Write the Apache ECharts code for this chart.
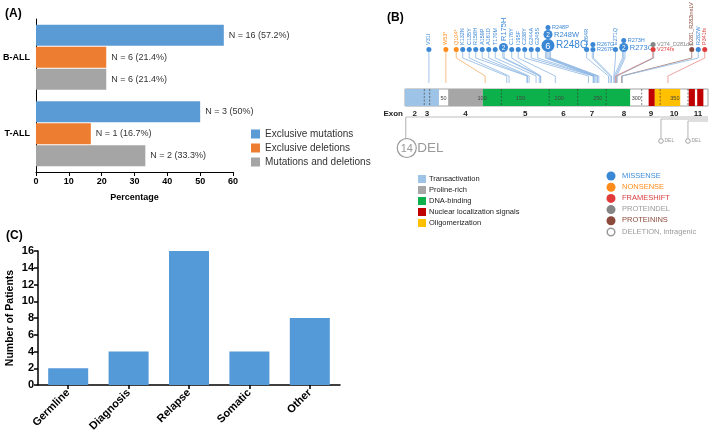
<!DOCTYPE html>
<html><head><meta charset="utf-8">
<script src="https://cdn.jsdelivr.net/npm/echarts@6/dist/echarts.min.js"></script>
<style>html,body{margin:0;padding:0;background:#fff}#c{width:709px;height:436px}</style>
</head><body><div id="c"></div>
<script>
// ---------- Panel A data ----------
const groupCats = ['B-ALL', 'T-ALL'];
const seriesNamesA = ['Exclusive mutations', 'Exclusive deletions', 'Mutations and deletions'];
const pctMut = [57.2, 50];
const pctDel = [21.4, 16.7];
const pctBoth = [21.4, 33.3];
const nMut = [16, 3];
const nDel = [6, 1];
const nBoth = [6, 2];
const pctAxisMax = 60, pctAxisStep = 10;

// ---------- Panel C data ----------
const timeCats = ['Germline', 'Diagnosis', 'Relapse', 'Somatic', 'Other'];
const patientCounts = [2, 4, 16, 4, 8];
const patientAxisMax = 16, patientAxisStep = 2;

// ---------- Panel B data ----------
const proteinLength = 393;
const domainNames = ['Transactivation', 'Proline-rich', 'DNA-binding', 'Nuclear localization signals', 'Oligomerization'];
const domainStart = [0, 56, 101, 316, 324, 368, 379];
const domainEnd = [44, 101, 292, 324, 357, 376, 387];
const domainIdx = [0, 1, 2, 3, 4, 3, 3];
const exonNumbers = ['2', '3', '4', '5', '6', '7', '8', '9', '10', '11'];
const exonEnds = [25, 32, 125, 187, 224, 261, 307, 331, 367, 393];
const positionTicks = [50, 100, 150, 200, 250, 300, 350];

const mutName = ['V31I','W53*','Q104*','K132N','C135Y','R158H','A159P','A161D','T170M','R175H','C176Y','I195F','C238Y','G244A','G245S','R248Q','R248W','R248P','L264R','R267P','R267G','E271Q','R273C','R273H','V274fs','V274_D281del','D281_R282insLV','R282W','P341fs'];
const mutPos = [31,53,104,132,135,158,159,161,170,175,176,195,238,244,245,248,248,248,264,267,267,271,273,273,274,274,281,282,341];
const mutCount = [1,1,1,1,1,1,1,1,1,2,1,1,1,1,1,6,2,1,1,1,1,1,2,1,1,1,1,1,1];
const mutType = ['MISSENSE','NONSENSE','NONSENSE','MISSENSE','MISSENSE','MISSENSE','MISSENSE','MISSENSE','MISSENSE','MISSENSE','MISSENSE','MISSENSE','MISSENSE','MISSENSE','MISSENSE','MISSENSE','MISSENSE','MISSENSE','MISSENSE','MISSENSE','MISSENSE','MISSENSE','MISSENSE','MISSENSE','FRAMESHIFT','PROTEINDEL','PROTEININS','MISSENSE','FRAMESHIFT'];

const delStart = [1, 332, 367];
const delEnd = [393, 393, 393];
const delCount = [14, 1, 1];

const mutTypeNames = ['MISSENSE', 'NONSENSE', 'FRAMESHIFT', 'PROTEINDEL', 'PROTEININS', 'DELETION, intragenic'];

// ---------- styles ----------
const FONT = '"Liberation Sans", Arial, sans-serif';
const colorsA = ['#5B9BD5', '#ED7D31', '#A5A5A5'];
const domainColors = ['#9DC3E6', '#A6A6A6', '#0DB14B', '#C00000', '#FFC000'];
const typeColor = {MISSENSE:'#3A87D6', NONSENSE:'#FF8C1A', FRAMESHIFT:'#E23B3B', PROTEINDEL:'#858585', PROTEININS:'#8B4A3C', DEL:'#9A9A9A'};
const typeLine = {MISSENSE:'#8DB6E3', NONSENSE:'#F6AE66', FRAMESHIFT:'#EC8B8B', PROTEINDEL:'#8A8FA0', PROTEININS:'#A07A70'};
const legendTextColor = ['#3F8ED8', '#FF8C1A', '#D94040', '#9A9A9A', '#8B4A3C', '#9A9A9A'];

const measureCtx = document.createElement('canvas').getContext('2d');
function textW(t, size) { measureCtx.font = size + 'px ' + FONT; return measureCtx.measureText(t).width; }
function radiusOf(c) { return c === 1 ? 2.5 : 3.5 + 0.5 * c; }
function fontOf(c) { return c === 1 ? 5.5 : (c === 2 ? 7.5 : 10); }

// group mutations into stacks at the same position
const stacks = [];
mutPos.forEach((p, i) => {
  let s = stacks.length && stacks[stacks.length - 1].pos === p ? stacks[stacks.length - 1] : null;
  if (!s) { s = {pos: p, items: []}; stacks.push(s); }
  s.items.push(i);
});
stacks.forEach(s => {
  const rs = s.items.map(i => radiusOf(mutCount[i]));
  s.rMax = Math.max(...rs);
  if (s.items.length === 1) {
    const f = fontOf(mutCount[s.items[0]]);
    s.left = Math.max(s.rMax, f / 2) + 0.5; s.right = s.left;
  } else {
    s.left = s.rMax + 0.5;
    s.right = Math.max(...s.items.map(i => radiusOf(mutCount[i]) + 1.5 + 0.85 * textW(mutName[i], fontOf(mutCount[i])))) + 0.5;
  }
});

let LAY = null;
function computeLayout(api) {
  const n = stacks.length;
  const xs = stacks.map(s => api.coord([s.pos, 1])[0]);
  const lb = api.coord([0, 1])[0], rb = api.coord([proteinLength, 1])[0];
  const h = xs.slice();
  for (let i = 0; i < n; i++) {
    h[i] = i === 0 ? Math.max(xs[i], lb + stacks[i].left) : Math.max(xs[i], h[i - 1] + stacks[i - 1].right + stacks[i].left);
  }
  for (let i = n - 1; i >= 0; i--) {
    const lim = i === n - 1 ? rb - stacks[i].right : h[i + 1] - stacks[i + 1].left - stacks[i].right;
    h[i] = Math.min(h[i], lim);
  }
  return {xs, h};
}

function renderMut(params, api) {
  if (params.dataIndex === 0 || !LAY) LAY = computeLayout(api);
  const i = params.dataIndex, s = stacks[i];
  const hx = LAY.h[i], ax = LAY.xs[i];
  const barTop = api.coord([0, 1])[1];
  const yBase = barTop - 37;
  const children = [];
  const lines = [];
  s.items.forEach(k => { const nl = mutCount[k] > 1 ? 2 : 1; for (let j = 0; j < nl; j++) lines.push(typeLine[mutType[k]]); });
  const nL = lines.length;
  lines.forEach((col, j) => {
    const off = (j - (nL - 1) / 2) * 1.3;
    children.push({type: 'polyline', shape: {points: [[hx + off, yBase], [hx + off, barTop - 31], [ax + off, barTop - 13], [ax + off, barTop - 6]]},
      style: {stroke: col, lineWidth: 0.8, fill: null}});
  });
  let cy = yBase;
  s.items.forEach(k => {
    const r = radiusOf(mutCount[k]);
    const c = cy - r;
    const col = typeColor[mutType[k]];
    children.push({type: 'circle', shape: {cx: hx, cy: c, r: r}, style: {fill: col}});
    if (mutCount[k] > 1) {
      children.push({type: 'text', x: hx, y: c + 0.5, style: {text: String(mutCount[k]), fill: '#fff', fontSize: r * 1.45, fontFamily: FONT, align: 'center', verticalAlign: 'middle'}});
    }
    if (s.items.length > 1) {
      children.push({type: 'text', x: hx + r + 1.5, y: c, style: {text: mutName[k], fill: col, fontSize: fontOf(mutCount[k]), fontFamily: FONT, align: 'left', verticalAlign: 'middle'}});
    }
    cy = c - r;
  });
  if (s.items.length === 1) {
    const k = s.items[0];
    children.push({type: 'text', x: hx, y: cy - 2, rotation: Math.PI / 2,
      style: {text: mutName[k], fill: typeColor[mutType[k]], fontSize: fontOf(mutCount[k]), fontFamily: FONT, align: 'left', verticalAlign: 'middle'}});
  }
  return {type: 'group', children};
}

function renderProtein(params, api) {
  const p0 = api.coord([0, 1]), p1 = api.coord([proteinLength, 0]);
  const children = [{type: 'rect', shape: {x: p0[0], y: p0[1], width: p1[0] - p0[0], height: p1[1] - p0[1]}, style: {fill: '#fff', stroke: '#8A8A8A', lineWidth: 0.8}}];
  domainStart.forEach((st, i) => {
    const a = api.coord([st, 1]), b = api.coord([domainEnd[i], 0]);
    children.push({type: 'rect', shape: {x: a[0], y: a[1], width: b[0] - a[0], height: b[1] - a[1]}, style: {fill: domainColors[domainIdx[i]]}});
  });
  exonEnds.slice(0, -1).forEach(e => {
    const a = api.coord([e, 1]), b = api.coord([e, 0]);
    children.push({type: 'line', shape: {x1: a[0], y1: a[1], x2: b[0], y2: b[1]}, style: {stroke: '#333', lineWidth: 0.6, lineDash: [2, 1.5]}});
  });
  positionTicks.forEach(t => {
    const a = api.coord([t, 0.5]);
    children.push({type: 'text', x: a[0], y: a[1] + 1, style: {text: String(t), fill: '#444', fontSize: 5.5, fontFamily: FONT, align: 'center', verticalAlign: 'middle'}});
  });
  const yEx = p1[1] + 7.5;
  children.push({type: 'text', x: p0[0] - 2, y: yEx, style: {text: 'Exon', fill: '#222', fontSize: 8, fontWeight: 'bold', fontFamily: FONT, align: 'right', verticalAlign: 'middle'}});
  exonNumbers.forEach((num, i) => {
    const s = i === 0 ? 0 : exonEnds[i - 1];
    const a = api.coord([(s + exonEnds[i]) / 2, 0]);
    children.push({type: 'text', x: a[0], y: yEx, style: {text: num, fill: '#222', fontSize: 8, fontWeight: 'bold', fontFamily: FONT, align: 'center', verticalAlign: 'middle'}});
  });
  return {type: 'group', children};
}

function renderDel(params, api) {
  const i = params.dataIndex;
  const barBottom = api.coord([0, 0])[1];
  const yl = barBottom + 11 + i * 2;
  const a = api.coord([delStart[i], 0])[0], b = api.coord([delEnd[i], 0])[0];
  const col = typeColor.DEL;
  const children = [{type: 'line', shape: {x1: a, y1: yl, x2: b, y2: yl}, style: {stroke: '#B5B5B5', lineWidth: 0.9}}];
  if (delCount[i] > 1) {
    const cy = barBottom + 42, r = 9.5;
    children.push({type: 'line', shape: {x1: a, y1: yl, x2: a, y2: cy - r}, style: {stroke: '#A8A8A8', lineWidth: 0.9}});
    children.push({type: 'circle', shape: {cx: a + 1, cy: cy, r: r}, style: {fill: '#fff', stroke: col, lineWidth: 1.2}});
    children.push({type: 'text', x: a + 1, y: cy + 0.5, style: {text: String(delCount[i]), fill: col, fontSize: 11, fontFamily: FONT, align: 'center', verticalAlign: 'middle'}});
    children.push({type: 'text', x: a + r + 2, y: cy + 0.5, style: {text: 'DEL', fill: col, fontSize: 13.5, fontFamily: FONT, align: 'left', verticalAlign: 'middle'}});
  } else {
    const cy = barBottom + 35, r = 2.3;
    children.push({type: 'line', shape: {x1: a, y1: yl, x2: a, y2: cy - r}, style: {stroke: '#A8A8A8', lineWidth: 0.9}});
    children.push({type: 'circle', shape: {cx: a, cy: cy, r: r}, style: {fill: '#fff', stroke: col, lineWidth: 0.9}});
    children.push({type: 'text', x: a + 3.5, y: cy, style: {text: 'DEL', fill: col, fontSize: 5, fontFamily: FONT, align: 'left', verticalAlign: 'middle'}});
  }
  return {type: 'group', children};
}

// ---------- Panel B legend (graphic) ----------
const graphics = [];
domainNames.forEach((d, i) => {
  const y = 179 + i * 11;
  graphics.push({type: 'rect', left: 418, top: y - 4, shape: {width: 8, height: 8}, style: {fill: domainColors[i]}});
  graphics.push({type: 'text', left: 429, top: y - 4.5, style: {text: d, fill: '#222', font: '7.5px ' + FONT}});
});
mutTypeNames.forEach((t, i) => {
  const y = 176 + i * 11.2;
  const isDel = i === 5;
  const col = isDel ? typeColor.DEL : typeColor[t];
  graphics.push({type: 'circle', shape: {cx: 611, cy: y, r: isDel ? 3.8 : 4.5}, style: isDel ? {fill: '#fff', stroke: col, lineWidth: 1.5} : {fill: col}});
  graphics.push({type: 'text', left: 622, top: y - 4.5, style: {text: t, fill: legendTextColor[i], font: '7.5px ' + FONT}});
});

const chart = echarts.init(document.getElementById('c'), null, {renderer: 'canvas'});
const fmtA = (pcts, ns) => (p) => 'N = ' + ns[p.dataIndex] + ' (' + pcts[p.dataIndex] + '%)';
const barLabel = (pcts, ns) => ({show: true, position: 'right', distance: 5, color: '#333', fontSize: 9, fontFamily: FONT, formatter: fmtA(pcts, ns)});

chart.setOption({
  animation: false,
  backgroundColor: '#fff',
  title: [
    {text: '(A)', left: 0, top: 3, textStyle: {fontSize: 12, fontWeight: 'bold', color: '#000', fontFamily: FONT}},
    {text: '(B)', left: 382, top: 7, textStyle: {fontSize: 12, fontWeight: 'bold', color: '#000', fontFamily: FONT}},
    {text: '(C)', left: 1, top: 225, textStyle: {fontSize: 12, fontWeight: 'bold', color: '#000', fontFamily: FONT}}
  ],
  legend: {data: seriesNamesA, orient: 'vertical', left: 246, top: 124, icon: 'rect', itemWidth: 9, itemHeight: 9, itemGap: 4,
    textStyle: {fontSize: 10, color: '#333', fontFamily: FONT}},
  grid: [
    {left: 34, top: 19, width: 199, height: 153},
    {left: 38, top: 251, width: 302, height: 134},
    {left: 405, top: 89, width: 303, height: 17}
  ],
  xAxis: [
    {gridIndex: 0, type: 'value', min: 0, max: pctAxisMax, interval: pctAxisStep,
      axisLine: {show: true, lineStyle: {color: '#000', width: 1}}, axisTick: {show: true, length: 4, lineStyle: {color: '#000'}},
      axisLabel: {color: '#000', fontSize: 9, fontWeight: 'bold', fontFamily: FONT, margin: 5}, splitLine: {show: false},
      name: 'Percentage', nameLocation: 'middle', nameGap: 21, nameTextStyle: {color: '#000', fontSize: 9, fontWeight: 'bold', fontFamily: FONT}},
    {gridIndex: 1, type: 'category', data: timeCats,
      axisLine: {show: true, lineStyle: {color: '#000', width: 1.5}}, axisTick: {show: true, alignWithLabel: true, length: 4, lineStyle: {color: '#000', width: 1.5}},
      axisLabel: {color: '#000', fontSize: 11, fontWeight: 'bold', fontFamily: FONT, rotate: 45, margin: 6}},
    {gridIndex: 2, type: 'value', min: 0, max: proteinLength, show: false}
  ],
  yAxis: [
    {gridIndex: 0, type: 'category', data: groupCats, inverse: true,
      axisLine: {show: true, lineStyle: {color: '#000', width: 1}}, axisTick: {show: false},
      axisLabel: {color: '#000', fontSize: 9, fontWeight: 'bold', fontFamily: FONT, margin: 6}},
    {gridIndex: 1, type: 'value', min: 0, max: patientAxisMax, interval: patientAxisStep,
      axisLine: {show: true, lineStyle: {color: '#000', width: 1.5}}, axisTick: {show: true, length: 4, lineStyle: {color: '#000', width: 1.5}},
      axisLabel: {color: '#000', fontSize: 11, fontWeight: 'bold', fontFamily: FONT, margin: 4}, splitLine: {show: false},
      name: 'Number of Patients', nameLocation: 'middle', nameRotate: 90, nameGap: 22,
      nameTextStyle: {color: '#000', fontSize: 10.5, fontWeight: 'bold', fontFamily: FONT}},
    {gridIndex: 2, type: 'value', min: 0, max: 1, show: false}
  ],
  series: [
    {name: seriesNamesA[0], type: 'bar', xAxisIndex: 0, yAxisIndex: 0, data: pctMut, barWidth: 21, barGap: '5%', itemStyle: {color: colorsA[0]}, label: barLabel(pctMut, nMut)},
    {name: seriesNamesA[1], type: 'bar', xAxisIndex: 0, yAxisIndex: 0, data: pctDel, barWidth: 21, barGap: '5%', itemStyle: {color: colorsA[1]}, label: barLabel(pctDel, nDel)},
    {name: seriesNamesA[2], type: 'bar', xAxisIndex: 0, yAxisIndex: 0, data: pctBoth, barWidth: 21, barGap: '5%', itemStyle: {color: colorsA[2]}, label: barLabel(pctBoth, nBoth)},
    {name: 'patients', type: 'bar', xAxisIndex: 1, yAxisIndex: 1, data: patientCounts, barWidth: 40, itemStyle: {color: '#5499D8'}},
    {name: 'protein', type: 'custom', xAxisIndex: 2, yAxisIndex: 2, clip: false, silent: true, data: [[0, 0]], renderItem: renderProtein},
    {name: 'deletions', type: 'custom', xAxisIndex: 2, yAxisIndex: 2, clip: false, silent: true, data: delStart.map((s, i) => [s, i]), renderItem: renderDel},
    {name: 'mutations', type: 'custom', xAxisIndex: 2, yAxisIndex: 2, clip: false, silent: true, data: stacks.map(s => [s.pos, 1]), renderItem: renderMut}
  ],
  graphic: graphics
});
</script></body></html>
